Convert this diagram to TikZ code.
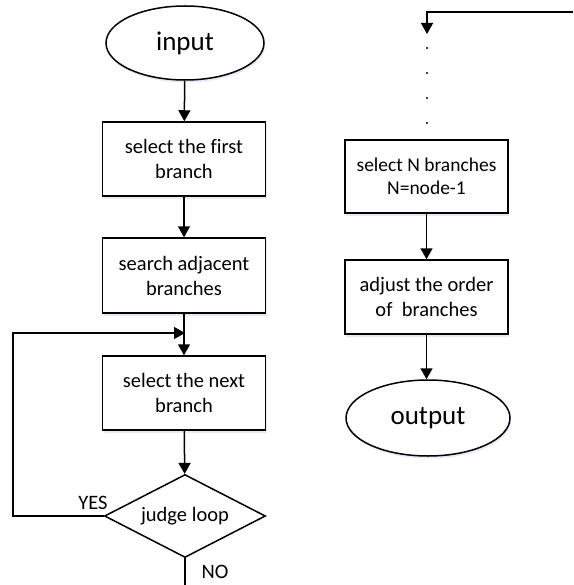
\documentclass[tikz,border=0pt]{standalone}
\usepackage{fontspec}
\setmainfont[Ligatures=NoCommon]{Carlito}
\usetikzlibrary{shapes.geometric,arrows.meta,shadows}
\begin{document}
\begin{tikzpicture}[x=1pt,y=-1pt,
  line width=1.5pt,
  soft/.style={drop shadow={shadow xshift=1.2pt,shadow yshift=-2.5pt,fill=cyan!30!blue!15,opacity=0.6}},
  procbox/.style={draw,fill=white,soft,minimum width=163pt,minimum height=74pt,align=center,inner sep=2pt,
    font=\fontsize{20.5}{25}\selectfont},
  term/.style={draw,ellipse,fill=white,soft,inner sep=0pt,font=\fontsize{27}{30}\selectfont},
  decide/.style={draw,diamond,aspect=2,fill=white,inner sep=0pt,minimum width=161pt,minimum height=83pt,
    font=\fontsize{20.5}{25}\selectfont},
  flow/.style={-{Triangle[length=11pt,width=12pt]}},
  lbl/.style={font=\fontsize{20.5}{25}\selectfont,inner sep=0pt},
  dot/.style={circle,fill,inner sep=0pt,minimum size=2.4pt}]
\useasboundingbox (0,0) rectangle (573,585);

% left column
\node[term,minimum width=158pt,minimum height=74pt] (in) at (185,43) {input};
\node[procbox] (first) at (184,159) {select the first\\branch};
\node[procbox,minimum height=75pt] (adj) at (184,275.5) {search adjacent\\branches};
\node[procbox] (next) at (184,393) {select the next\\branch};
\node[decide] (judge) at (185,516) {judge loop};

\coordinate (join) at (185,333);
\coordinate (noend) at (185,585);

\draw[flow] (in) -- (first);
\draw[flow] (first) -- (adj);
\draw[flow] (adj) -- (next);
\draw[flow] (next) -- (judge);
\draw[flow] (judge.west) -- (13,516) |- (join);
\draw (judge.south) -- (noend);

\node[lbl] (yes) at (93,503) {YES};
\node[lbl] (no) at (215,572) {NO};

% right column
\coordinate (topin) at (573,12);
\coordinate (topend) at (427,34);
\draw[flow] (topin) -| (topend);

\node[dot] (d1) at (427,48) {};
\node[dot] (d2) at (427,73) {};
\node[dot] (d3) at (427,98) {};
\node[dot] (d4) at (427,123) {};

\node[procbox,minimum height=73pt,font=\fontsize{19.5}{23}\selectfont] (selN) at (426.5,176.5) {select N branches\\N=node-1};
\node[procbox] (order) at (426.5,297) {adjust the order\\of\ \ branches};
\node[term,minimum width=164pt,minimum height=76pt] (out) at (428,418) {output};

\draw[flow] (selN) -- (order);
\draw[flow] (order.south) -- (order.south |- out.north);
\end{tikzpicture}
\end{document}
